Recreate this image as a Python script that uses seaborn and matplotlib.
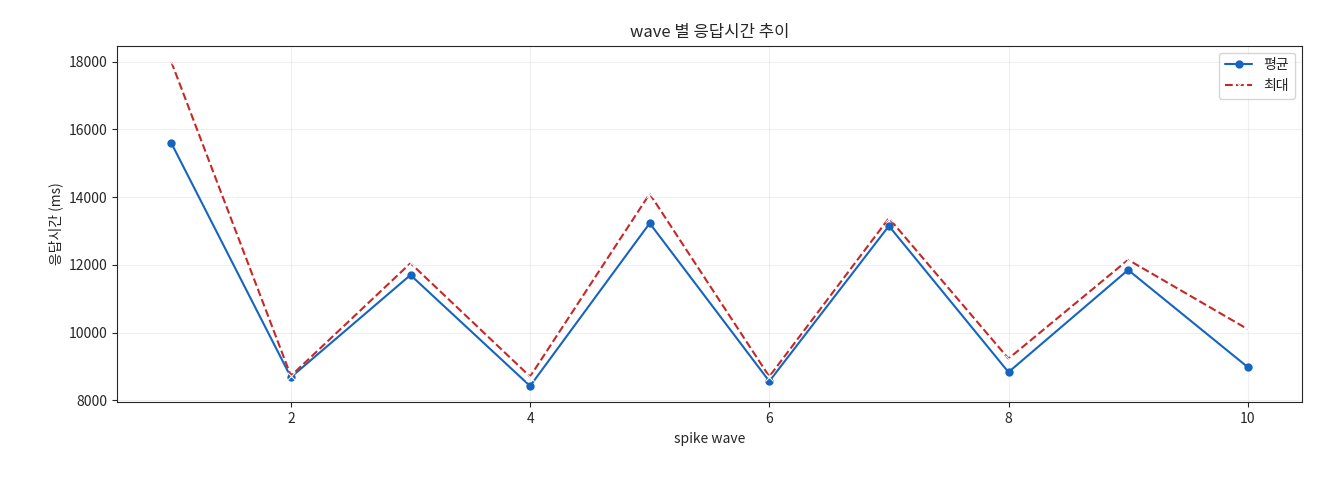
import matplotlib
matplotlib.use("Agg")
import matplotlib.pyplot as plt
import seaborn as sns
import pandas as pd

waves = [1, 2, 3, 4, 5, 6, 7, 8, 9, 10]
avg_ms = [15600, 8680, 11700, 8420, 13230, 8560, 13150, 8830, 11850, 8980]
max_ms = [18000, 8720, 12050, 8700, 14100, 8700, 13380, 9230, 12150, 10100]

sns.set_style("ticks")
plt.rcParams['font.family'] = ['Noto Sans CJK KR', 'DejaVu Sans']

df = pd.DataFrame({"wave": waves, "avg": avg_ms, "max": max_ms})
fig, ax = plt.subplots(figsize=(13.2, 4.8), dpi=100)
sns.lineplot(data=df, x="wave", y="avg", ax=ax, color="#1565c0", marker="o",
             markersize=6, markeredgewidth=0, label="평균", linewidth=1.5)
sns.lineplot(data=df, x="wave", y="max", ax=ax, color="#c62828", marker="x",
             markersize=6, linestyle="--", label="최대", linewidth=1.5)
ax.lines[1].set_linestyle("--")
ax.set_title("wave 별 응답시간 추이", fontsize=12)
ax.set_xlabel("spike wave", fontsize=10)
ax.set_ylabel("응답시간 (ms)", fontsize=10)
ax.grid(True, alpha=0.3)
ax.set_yticks([8000, 10000, 12000, 14000, 16000, 18000])
ax.set_xticks([2, 4, 6, 8, 10])
ax.tick_params(labelsize=10)
leg = ax.legend(loc="upper right", fontsize=10)
fig.subplots_adjust(left=0.089, right=0.986, top=0.905, bottom=0.162)
fig.savefig("out.png")
